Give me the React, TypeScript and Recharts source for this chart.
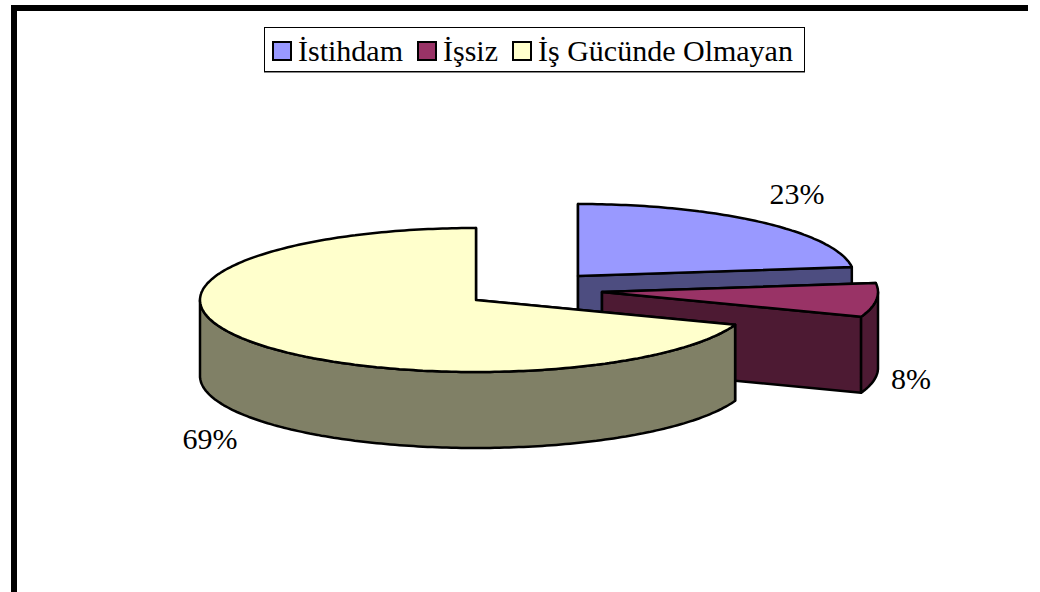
import { Legend, Pie, PieChart } from "recharts"

const categories = ["İstihdam", "İşsiz", "İş Gücünde Olmayan"]
const values = [23.0, 7.6, 69.4]
const topColors = ["#9999FF", "#993366", "#FFFFCC"]
const sideColors = ["#4D4D80", "#4D1A33", "#808066"]

const data = categories.map((name, i) => ({ name, value: values[i], fill: topColors[i] }))

const RX = 276
const RY = 72
const DEPTH = 76
// exploded slice centres relative to the pie centre, and label anchors
const explode = [
  { dx: 102, dy: -24 },
  { dx: 126, dy: -8 },
  { dx: 0, dy: 0 },
]
const labelPos = [
  { dx: 321, dy: -107 },
  { dx: 435, dy: 78 },
  { dx: -266, dy: 138 },
]

const RAD = Math.PI / 180

function SliceShape(props: any) {
  const { cx, cy, startAngle, endAngle, index, fill } = props
  const i = index ?? categories.indexOf(props.name)
  const ox = cx + explode[i].dx
  const oy = cy + explode[i].dy
  const pt = (a: number, d = 0) => [ox + RX * Math.cos(a * RAD), oy - RY * Math.sin(a * RAD) + d]
  const arc = (from: number, to: number, d = 0) => {
    // recharts angles run clockwise here, from high to low
    const pts: string[] = []
    const n = Math.max(2, Math.ceil(Math.abs(from - to)))
    for (let k = 0; k <= n; k++) {
      const p = pt(from + ((to - from) * k) / n, d)
      pts.push(`${p[0].toFixed(1)},${p[1].toFixed(1)}`)
    }
    return pts
  }
  const s = pt(startAngle)
  const e = pt(endAngle)
  const stroke = { stroke: "#000", strokeWidth: 2.5, strokeLinejoin: "round" as const }
  const side = sideColors[i]

  // visible part of the outer wall is the front half: -180..0
  let wall: string | null = null
  for (const shift of [0, -360]) {
    const hi = Math.min(startAngle + shift, 0)
    const lo = Math.max(endAngle + shift, -180)
    if (hi > lo) {
      wall = [...arc(hi, lo), ...arc(lo, hi, DEPTH)].join(" ")
    }
  }

  return (
    <g>
      <polygon points={`${ox},${oy} ${s[0]},${s[1]} ${s[0]},${s[1] + DEPTH} ${ox},${oy + DEPTH}`} fill={side} {...stroke} />
      <polygon points={`${ox},${oy} ${e[0]},${e[1]} ${e[0]},${e[1] + DEPTH} ${ox},${oy + DEPTH}`} fill={side} {...stroke} />
      {wall && <polygon points={wall} fill={side} {...stroke} />}
      <polygon points={`${ox},${oy} ${arc(startAngle, endAngle).join(" ")}`} fill={fill} {...stroke} />
    </g>
  )
}

function renderLabel(props: any) {
  const { cx, cy, index, percent } = props
  return (
    <text
      x={cx + labelPos[index].dx}
      y={cy + labelPos[index].dy}
      textAnchor="middle"
      dominantBaseline="central"
      fontFamily="Liberation Serif"
      fontSize={30}
      fill="#000"
    >
      {Math.round(percent * 100)}%
    </text>
  )
}

function LegendBox() {
  return (
    <div
      style={{
        display: "flex",
        alignItems: "center",
        boxSizing: "border-box",
        width: 541,
        height: 45,
        paddingLeft: 7,
        paddingTop: 3,
        background: "#fff",
        border: "1.5px solid #000",
        boxShadow: "0 1px 0 #888",
        fontFamily: "Liberation Serif",
        fontSize: 30,
        color: "#000",
        whiteSpace: "nowrap",
      }}
    >
      {categories.map((name, i) => (
        <span key={name} style={{ display: "flex", alignItems: "center", marginRight: 14 }}>
          <span
            style={{
              display: "inline-block",
              boxSizing: "border-box",
              width: 20,
              height: 20,
              marginRight: 6,
              background: topColors[i],
              border: "2.5px solid #000",
            }}
          />
          {name}
        </span>
      ))}
    </div>
  )
}

export default function App() {
  return (
    <div style={{ position: "absolute", left: 0, top: 0, width: 1040, height: 592, background: "#fff", overflow: "hidden" }}>
      <div style={{ position: "absolute", left: 11, top: 5, width: 1017, height: 6, background: "#000" }} />
      <div style={{ position: "absolute", left: 11, top: 5, width: 6, height: 587, background: "#000" }} />
      <PieChart
        width={1040}
        height={592}
        margin={{ top: 0, right: 0, bottom: 0, left: 0 }}
        style={{ position: "absolute", left: 0, top: 0 }}
      >
        <Pie
          data={data}
          dataKey="value"
          nameKey="name"
          cx={476}
          cy={255}
          outerRadius={RX}
          startAngle={90}
          endAngle={-270}
          stroke="#000"
          shape={SliceShape}
          label={renderLabel}
          labelLine={false}
          isAnimationActive={false}
        />
        <Legend
          content={() => <LegendBox />}
          layout="horizontal"
          verticalAlign="top"
          align="left"
          wrapperStyle={{ position: "absolute", left: 264, top: 27, width: 541, height: 45 }}
        />
      </PieChart>
    </div>
  )
}
